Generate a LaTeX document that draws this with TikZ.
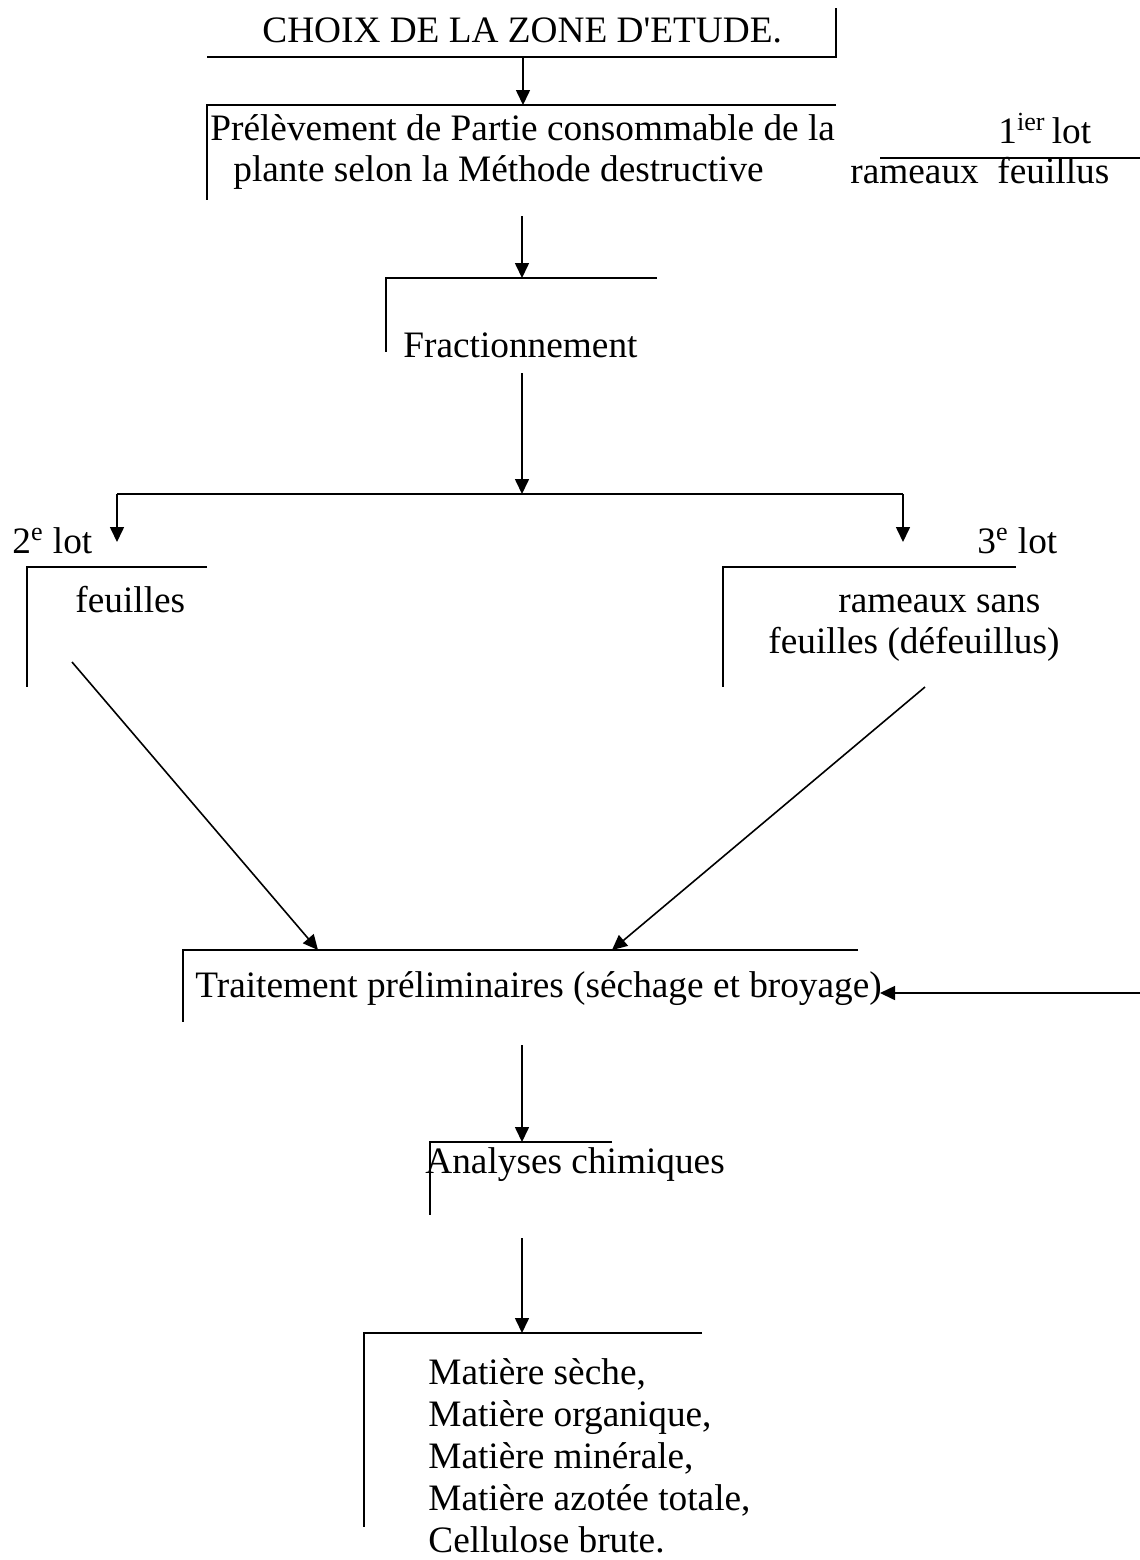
\documentclass[tikz,border=0pt]{standalone}
\usepackage{fontspec}
\setmainfont{Liberation Serif}
\usetikzlibrary{arrows.meta}
\newcommand\dfont{\fontsize{18.65pt}{21.2pt}\selectfont}
\tikzset{
  frame/.style={line width=0.8pt},
  arr/.style={line width=0.8pt,-{Triangle[length=7.5pt,width=7pt]}},
  txt/.style={inner sep=0pt,anchor=base west,font=\dfont}
}
\begin{document}
\begin{tikzpicture}[x=0.5pt,y=-0.5pt]
\useasboundingbox (0,0) rectangle (1140,1560);
% texts
\node[txt] (choix) at (262,42) {CHOIX DE LA ZONE D\textquotesingle ETUDE.};
\node[txt] (prel1) at (210,140) {Prélèvement de Partie consommable de la};
\node[txt] (prel2) at (233,181) {plante selon la Méthode destructive};
\node[txt] (lot1) at (998,143) {1\textsuperscript{ier}\,lot};
\node[txt] (ramf) at (850,183) {rameaux\ \ feuillus};
\node[txt] (frac) at (403,357) {Fractionnement};
\node[txt] (lot2) at (12,553) {2\textsuperscript{e} lot};
\node[txt] (feu) at (75,612) {feuilles};
\node[txt] (lot3) at (977,553) {3\textsuperscript{e} lot};
\node[txt] (ram1) at (838,612) {rameaux sans};
\node[txt] (ram2) at (768,653) {feuilles (défeuillus)};
\node[txt] (trait) at (195,997) {Traitement préliminaires (séchage et broyage)};
\node[txt] (anal) at (425,1173) {Analyses chimiques};
\node[txt] (res1) at (428,1384) {Matière sèche,};
\node[txt] (res2) at (428,1426) {Matière organique,};
\node[txt] (res3) at (428,1468) {Matière minérale,};
\node[txt] (res4) at (428,1510) {Matière azotée totale,};
\node[txt] (res5) at (428,1552) {Cellulose brute.};
% frame corners
\coordinate (f1a) at (207,57); \coordinate (f1b) at (836,57); \coordinate (f1c) at (836,8);
\coordinate (f2a) at (836,105); \coordinate (f2b) at (207,105); \coordinate (f2c) at (207,200);
\coordinate (l1a) at (880,158); \coordinate (l1b) at (1140,158);
\coordinate (f3a) at (657,278); \coordinate (f3b) at (386,278); \coordinate (f3c) at (386,352);
\coordinate (f4a) at (207,567); \coordinate (f4b) at (27,567); \coordinate (f4c) at (27,687);
\coordinate (f5a) at (1016,567); \coordinate (f5b) at (723,567); \coordinate (f5c) at (723,687);
\coordinate (f6a) at (858,950); \coordinate (f6b) at (183,950); \coordinate (f6c) at (183,1022);
\coordinate (f7a) at (612,1142); \coordinate (f7b) at (430,1142); \coordinate (f7c) at (430,1215);
\coordinate (f8a) at (702,1333); \coordinate (f8b) at (364,1333); \coordinate (f8c) at (364,1527);
\draw[frame] (f1a) -- (f1b) -- (f1c);
\draw[frame] (f2a) -- (f2b) -- (f2c);
\draw[frame] (l1a) -- (l1b);
\draw[frame] (f3a) -- (f3b) -- (f3c);
\draw[frame] (f4a) -- (f4b) -- (f4c);
\draw[frame] (f5a) -- (f5b) -- (f5c);
\draw[frame] (f6a) -- (f6b) -- (f6c);
\draw[frame] (f7a) -- (f7b) -- (f7c);
\draw[frame] (f8a) -- (f8b) -- (f8c);
% arrow endpoints
\coordinate (a1s) at (523,57); \coordinate (a1e) at (523,105);
\coordinate (a2s) at (522,216); \coordinate (a2e) at (522,278);
\coordinate (a3s) at (522,373); \coordinate (a3e) at (522,494);
\coordinate (bl) at (117,494); \coordinate (ble) at (117,542);
\coordinate (br) at (903,494); \coordinate (bre) at (903,542);
\coordinate (dls) at (72,662); \coordinate (dle) at (318,950);
\coordinate (drs) at (925,687); \coordinate (dre) at (612,950);
\coordinate (rs) at (1140,993); \coordinate (re) at (880,993);
\coordinate (a4s) at (522,1045); \coordinate (a4e) at (522,1142);
\coordinate (a5s) at (522,1238); \coordinate (a5e) at (522,1333);
\draw[arr] (a1s) -- (a1e);
\draw[arr] (a2s) -- (a2e);
\draw[arr] (a3s) -- (a3e);
\draw[frame] (bl) -- (br);
\draw[arr] (bl) -- (ble);
\draw[arr] (br) -- (bre);
\draw[arr] (dls) -- (dle);
\draw[arr] (drs) -- (dre);
\draw[arr] (rs) -- (re);
\draw[arr] (a4s) -- (a4e);
\draw[arr] (a5s) -- (a5e);
\end{tikzpicture}
\end{document}
